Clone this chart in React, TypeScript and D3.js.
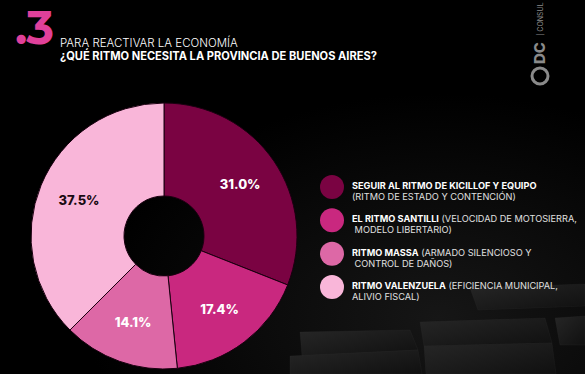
import { useEffect, useRef } from 'react';
import * as d3 from 'd3';

// Survey shares, clockwise from 12 o'clock
const SEGMENTS = ['Kicillof', 'Santilli', 'Massa', 'Valenzuela'];
const SHARES = [31.0, 17.4, 14.1, 37.5];
const COLORS = ['#7a0342', '#c9287f', '#dd68a6', '#f9b6d9'];
const LABEL_COLORS = ['#ffffff', '#ffffff', '#ffffff', '#1a0a12'];

// Legend: bold lead + regular remainder, split over two lines
const LEGEND_BOLD = ['SEGUIR AL RITMO DE KICILLOF Y EQUIPO', 'EL RITMO SANTILLI', 'RITMO MASSA', 'RITMO VALENZUELA'];
const LEGEND_REST = [' ', ' (VELOCIDAD DE MOTOSIERRA,', ' (ARMADO SILENCIOSO Y', ' (EFICIENCIA MUNICIPAL,'];
const LEGEND_LINE2 = ['(RITMO DE ESTADO Y CONTENCIÓN)', ' MODELO LIBERTARIO)', ' CONTROL DE DAÑOS)', 'ALIVIO FISCAL)'];

const TITLE_NUM = '.3';
const TITLE_1 = 'PARA REACTIVAR LA ECONOMÍA';
const TITLE_2 = '¿QUÉ RITMO NECESITA LA PROVINCIA DE BUENOS AIRES?';

const FONT = 'Inter, "Open Sans", sans-serif';
const W = 585;
const H = 374;

// Dark block shapes in the lower-right backdrop
const BLOCKS: [number, number][][] = [
  [[420, 322], [545, 318], [552, 343], [424, 346]],
  [[424, 346], [552, 343], [556, 374], [426, 374]],
  [[300, 332], [410, 330], [418, 350], [302, 356]],
  [[290, 356], [418, 350], [422, 374], [290, 374]],
  [[555, 318], [585, 316], [585, 345], [560, 345]],
  [[470, 288], [585, 284], [585, 306], [478, 310]],
];

export default function App() {
  const ref = useRef<SVGSVGElement>(null);

  useEffect(() => {
    if (!ref.current) return;
    const svg = d3.select(ref.current);
    svg.selectAll('*').remove();

    const defs = svg.append('defs');
    const grad = defs.append('linearGradient')
      .attr('id', 'blockGrad')
      .attr('x1', 0).attr('y1', 0).attr('x2', 1).attr('y2', 1);
    grad.append('stop').attr('offset', '0%').attr('stop-color', '#262626');
    grad.append('stop').attr('offset', '100%').attr('stop-color', '#101010');

    const bg = defs.append('radialGradient').attr('id', 'bgGlow')
      .attr('cx', 0.75).attr('cy', 0.85).attr('r', 0.6);
    bg.append('stop').attr('offset', '0%').attr('stop-color', '#161616');
    bg.append('stop').attr('offset', '100%').attr('stop-color', '#000000');

    svg.append('rect').attr('width', W).attr('height', H).attr('fill', 'url(#bgGlow)');

    svg.append('g')
      .selectAll('polygon')
      .data(BLOCKS)
      .join('polygon')
      .attr('points', d => d.map(p => p.join(',')).join(' '))
      .attr('fill', 'url(#blockGrad)')
      .attr('stroke', '#333333')
      .attr('stroke-width', 0.5)
      .attr('stroke-opacity', 0.4);

    // Title block
    svg.append('text')
      .attr('x', 15).attr('y', 44)
      .attr('font-family', 'Montserrat, "DejaVu Sans", sans-serif')
      .attr('font-size', 47).attr('font-weight', 700)
      .attr('fill', '#e0409a')
      .attr('letter-spacing', -1.5)
      .text(TITLE_NUM);

    svg.append('text')
      .attr('x', 60).attr('y', 47)
      .attr('font-family', FONT).attr('font-size', 11.5).attr('font-weight', 300)
      .attr('fill', '#ffffff')
      .text(TITLE_1);

    svg.append('text')
      .attr('x', 60).attr('y', 60)
      .attr('font-family', FONT).attr('font-size', 11.2).attr('font-weight', 700)
      .attr('fill', '#ffffff')
      .attr('textLength', 317).attr('lengthAdjust', 'spacingAndGlyphs')
      .text(TITLE_2);

    // Vertical brand mark
    const logo = svg.append('g').attr('transform', 'translate(540,0)');
    logo.append('circle').attr('cx', 0).attr('cy', 76).attr('r', 8)
      .attr('fill', 'none').attr('stroke', '#8a8a8a').attr('stroke-width', 3);
    logo.append('text')
      .attr('transform', 'translate(5,64) rotate(-90)')
      .attr('font-family', FONT).attr('font-size', 15).attr('font-weight', 800)
      .attr('fill', '#8a8a8a')
      .text('DC');
    logo.append('text')
      .attr('transform', 'translate(3,36) rotate(-90)')
      .attr('font-family', FONT).attr('font-size', 7).attr('font-weight', 400)
      .attr('fill', '#8a8a8a')
      .text('| CONSUL');

    // Donut
    const cx = 164;
    const cy = 236;
    const outer = 133;
    const inner = 40;
    const pie = d3.pie<number>().sort(null).value(d => d);
    const arcs = pie(SHARES);
    const arc = d3.arc<d3.PieArcDatum<number>>().innerRadius(inner).outerRadius(outer);
    const labelArc = d3.arc<d3.PieArcDatum<number>>().innerRadius(92).outerRadius(92);

    const g = svg.append('g').attr('transform', `translate(${cx},${cy})`);
    g.selectAll('path')
      .data(arcs)
      .join('path')
      .attr('d', arc)
      .attr('fill', (_, i) => COLORS[i])
      .attr('stroke', '#1a0010')
      .attr('stroke-width', 1);

    g.selectAll('text')
      .data(arcs)
      .join('text')
      .attr('transform', d => `translate(${labelArc.centroid(d)})`)
      .attr('text-anchor', 'middle')
      .attr('dy', '0.36em')
      .attr('font-family', FONT).attr('font-size', 13).attr('font-weight', 800)
      .attr('fill', (_, i) => LABEL_COLORS[i])
      .text(d => `${d.data.toFixed(1)}%`);

    // Legend
    const legendY = d3.scalePoint<string>()
      .domain(SEGMENTS)
      .range([187, 287]);

    const items = svg.append('g')
      .selectAll('g')
      .data(SEGMENTS)
      .join('g')
      .attr('transform', d => `translate(332,${legendY(d)})`);

    items.append('circle')
      .attr('r', 12)
      .attr('fill', (_, i) => COLORS[i]);

    const line1 = items.append('text')
      .attr('x', 20).attr('y', 2)
      .attr('font-family', FONT).attr('font-size', 9.2)
      .attr('fill', '#ffffff');
    line1.append('tspan').attr('font-weight', 700).text((_, i) => LEGEND_BOLD[i]);
    line1.append('tspan').attr('font-weight', 400).attr('fill', '#e0e0e0').text((_, i) => LEGEND_REST[i]);

    items.append('text')
      .attr('x', 20).attr('y', 13)
      .attr('font-family', FONT).attr('font-size', 9.2).attr('font-weight', 400)
      .attr('fill', '#e0e0e0')
      .attr('xml:space', 'preserve')
      .text((_, i) => LEGEND_LINE2[i]);
  }, []);

  return (
    <svg
      ref={ref}
      width={W}
      height={H}
      style={{ position: 'absolute', left: 0, top: 0, background: '#000' }}
    />
  );
}
